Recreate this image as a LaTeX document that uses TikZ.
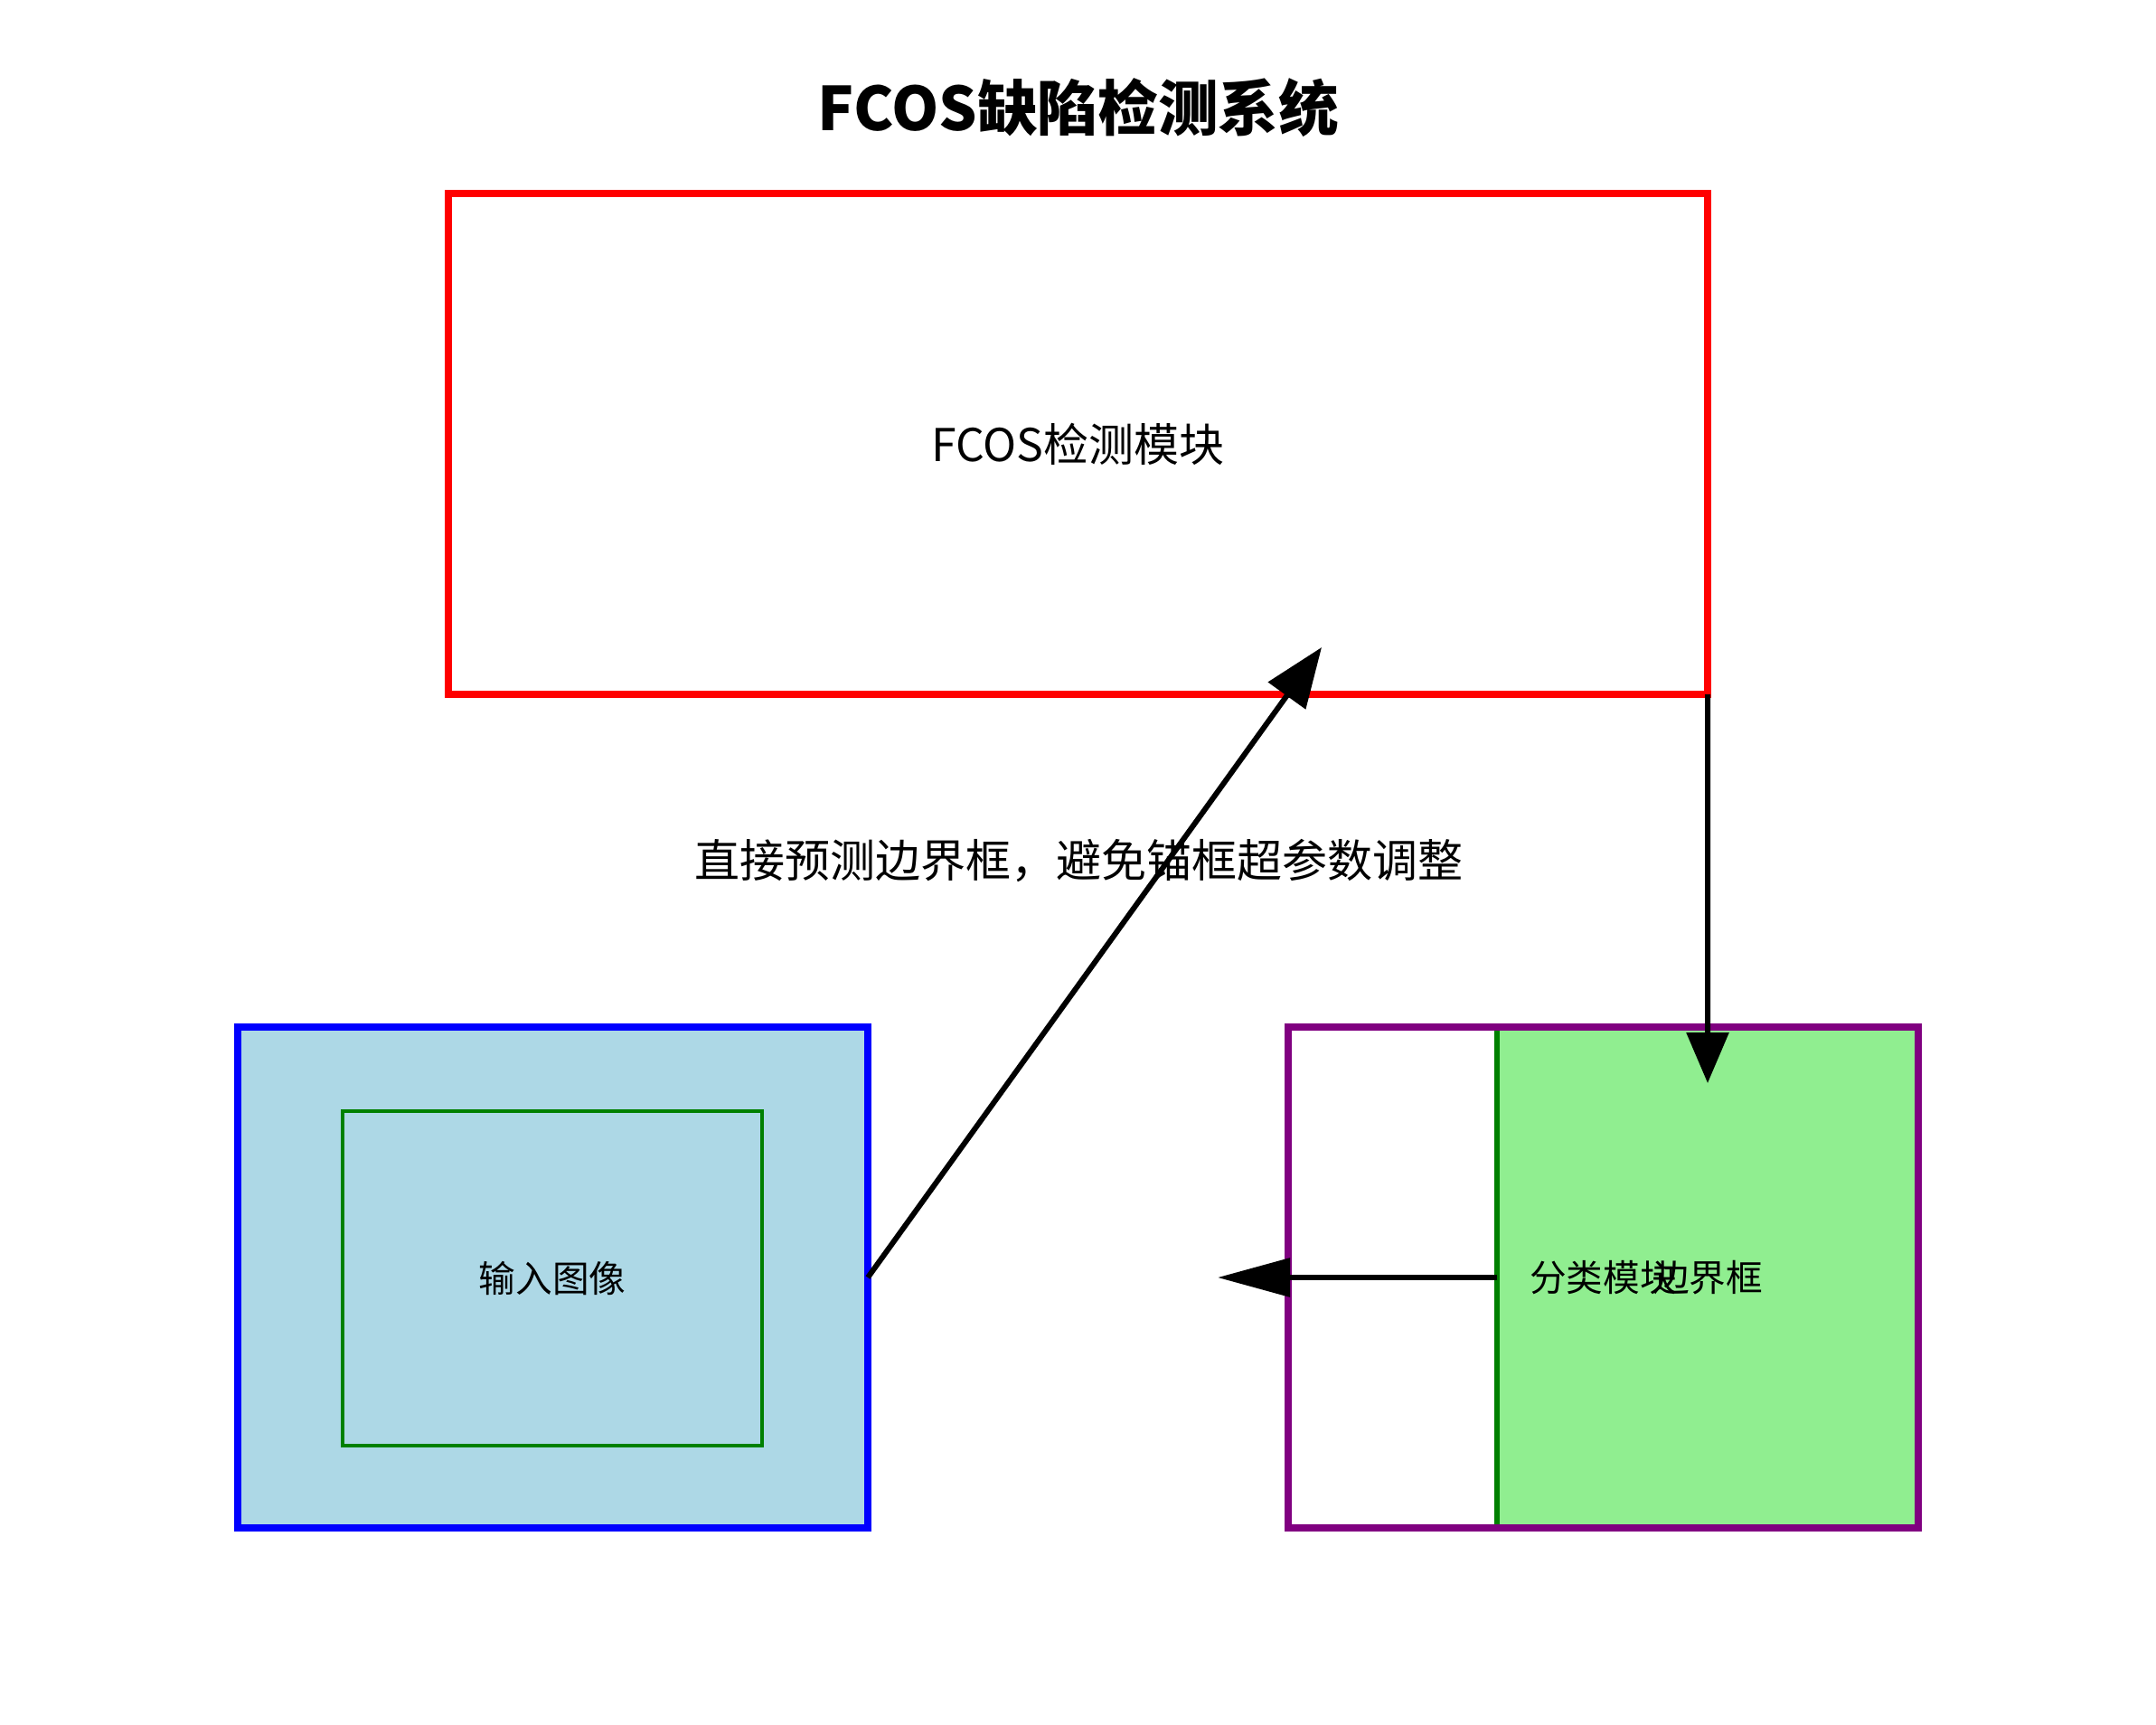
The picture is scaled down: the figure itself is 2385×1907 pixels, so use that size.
\documentclass[tikz,border=0pt]{standalone}
\usepackage{fontspec}
\setmainfont{Noto Sans CJK SC}
\usetikzlibrary{arrows.meta}
\definecolor{lightblue}{HTML}{ADD8E6}
\definecolor{lightgreen}{HTML}{90EE90}
\definecolor{webgreen}{HTML}{008000}
\definecolor{webpurple}{HTML}{800080}

\begin{document}
\begin{tikzpicture}[x=0.3pt, y=-0.3pt,
    box/.style={draw, line width=2.4pt, inner sep=0pt, outer sep=0pt,
        minimum width=209.1pt, minimum height=166.2pt},
    boxtext/.style={font=\fontsize{12.2pt}{14pt}\selectfont},
    flow/.style={line width=1.8pt}]
                % Page:
                \path[use as bounding box, fill=white] (0, 0) rectangle (2385, 1907);
                \node[font=\bfseries\fontsize{20pt}{24pt}\selectfont](title) at (1193, 119){FCOS缺陷检测系统};
                % Boxes:
                \node[box, draw=red, minimum width=417.9pt, font=\fontsize{15pt}{18pt}\selectfont](fcos) at (1192.5, 491){FCOS检测模块};
                \node[box, draw=blue, fill=lightblue](input) at (611.5, 1413){};
                \node[draw=webgreen, line width=1.2pt, minimum width=139.2pt, minimum height=111pt, boxtext](image) at (611, 1414){输入图像};
                \node[draw=webgreen, fill=lightgreen, line width=1.8pt, inner sep=0pt, outer sep=0pt, minimum width=139.8pt, minimum height=166.2pt, boxtext](bbox) at (1889, 1413){边界框};
                \node[box, draw=webpurple, boxtext](cls) at (1773.5, 1413){分类模块};
                \node[font=\fontsize{15pt}{18pt}\selectfont](note) at (1193, 952){直接预测边界框，避免锚框超参数调整};
                % Arrows:
                \coordinate (fcostip) at (1462, 716);
                \coordinate (bboxtip) at (1889, 1198);
                \coordinate (clstip) at (1347, 1413);
                \draw[flow, -{Triangle[length=19.8pt, width=15pt]}] (input.east) -- (fcostip);
                \draw[flow, -{Triangle[length=16.8pt, width=13.8pt]}] (fcos.south east) -- (bboxtip);
                \draw[flow, -{Triangle[length=24pt, width=12.6pt]}] (bbox.west) -- (clstip);
            \end{tikzpicture}
\end{document}
